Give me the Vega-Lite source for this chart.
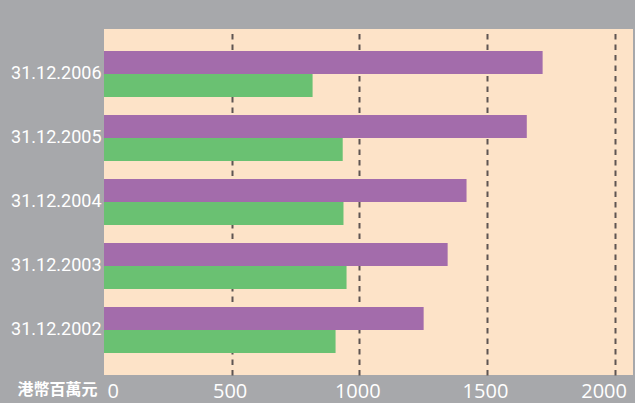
{
  "$schema": "https://vega.github.io/schema/vega-lite/v6.json",
  "width": 529,
  "height": 346,
  "autosize": {"type": "none"},
  "padding": {"left": 104, "top": 29, "right": 2, "bottom": 28},
  "background": "#a7a8ab",
  "config": {"view": {"fill": "#fde3c8", "stroke": null}},
  "data": {
    "values": [
      {"date": "31.12.2006", "series": "系列一", "value": 1718},
      {"date": "31.12.2006", "series": "系列二", "value": 817},
      {"date": "31.12.2005", "series": "系列一", "value": 1656},
      {"date": "31.12.2005", "series": "系列二", "value": 935},
      {"date": "31.12.2004", "series": "系列一", "value": 1420},
      {"date": "31.12.2004", "series": "系列二", "value": 938},
      {"date": "31.12.2003", "series": "系列一", "value": 1346},
      {"date": "31.12.2003", "series": "系列二", "value": 950},
      {"date": "31.12.2002", "series": "系列一", "value": 1252},
      {"date": "31.12.2002", "series": "系列二", "value": 907}
    ]
  },
  "mark": {"type": "bar"},
  "encoding": {
    "y": {
      "field": "date",
      "type": "nominal",
      "sort": ["31.12.2006", "31.12.2005", "31.12.2004", "31.12.2003", "31.12.2002"],
      "scale": {"paddingInner": 0.28125, "paddingOuter": 0.34375},
      "axis": {
        "title": null,
        "domain": false,
        "ticks": false,
        "tickSize": 0,
        "labelPadding": 3,
        "labelFont": "Roboto",
        "labelFontSize": 18,
        "labelColor": "#ffffff"
      }
    },
    "yOffset": {
      "field": "series",
      "sort": ["系列一", "系列二"],
      "scale": {"paddingInner": 0, "paddingOuter": 0}
    },
    "x": {
      "field": "value",
      "type": "quantitative",
      "scale": {"domain": [0, 2072], "nice": false, "zero": true},
      "axis": {
        "values": [0, 500, 1000, 1500, 2000],
        "format": "d",
        "grid": true,
        "gridDash": [5.5, 5],
        "gridColor": "#5e5552",
        "gridWidth": 2,
        "gridOpacity": {"condition": {"test": "datum.value == 0", "value": 0}, "value": 1},
        "domain": false,
        "ticks": false,
        "tickSize": 0,
        "labelPadding": 6,
        "labelFont": "Open Sans",
        "labelFontSize": 20,
        "labelColor": "#ffffff",
        "labelOffset": {
          "condition": [
            {"test": "datum.value == 0", "value": 3},
            {"test": "datum.value == 2000", "value": -11}
          ],
          "value": -2
        },
        "title": "港幣百萬元",
        "titleFont": "Noto Sans CJK TC",
        "titleFontWeight": "bold",
        "titleFontSize": 16,
        "titleColor": "#ffffff",
        "titleX": -87,
        "titleY": 19,
        "titleAlign": "left",
        "titleAnchor": "start",
        "titleBaseline": "alphabetic"
      }
    },
    "color": {
      "field": "series",
      "scale": {"domain": ["系列一", "系列二"], "range": ["#a36cab", "#6ac172"]},
      "legend": null
    }
  }
}
